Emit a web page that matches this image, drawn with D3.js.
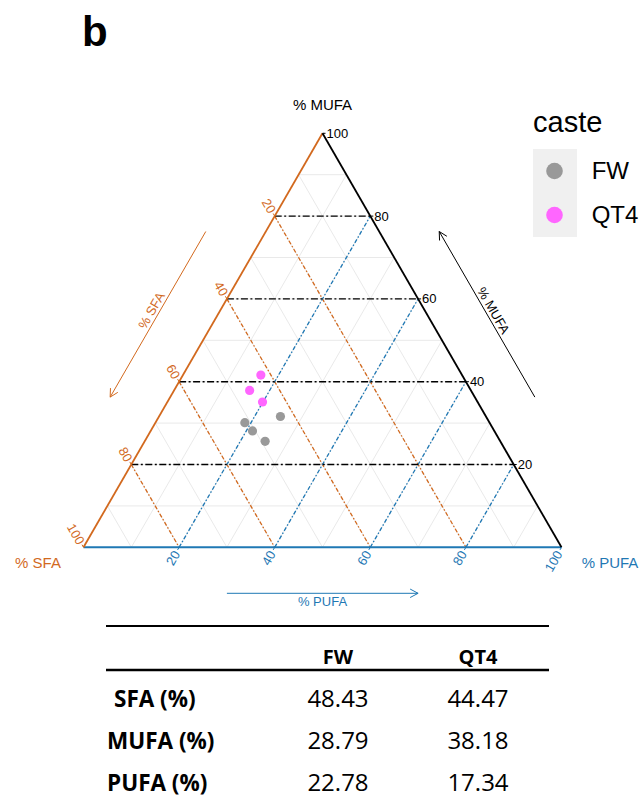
<!DOCTYPE html>
<html>
<head>
<meta charset="utf-8">
<script src="https://cdn.jsdelivr.net/npm/d3@7"></script>
<style>
  body { margin: 0; background: #fff; }
  svg { display: block; font-family: "Liberation Sans", Arial, sans-serif; }
</style>
</head>
<body>
<script>
// compositions of each sample (% SFA, % MUFA, % PUFA)
var fwSFA = [43.0, 51.2, 50.6, 49.2];
var fwMUFA = [31.6, 30.1, 28.1, 25.6];
var fwPUFA = [25.4, 18.7, 21.3, 25.2];
var qt4SFA = [42.1, 46.3, 45.0];
var qt4MUFA = [41.6, 37.9, 35.1];
var qt4PUFA = [16.3, 15.8, 19.9];

var castes = ["FW", "QT4"];
var majorTicks = [20, 40, 60, 80, 100];
var gridTicks = [10, 20, 30, 40, 50, 60, 70, 80, 90];

// mean table under the plot
var tableRows = ["SFA (%)", "MUFA (%)", "PUFA (%)"];
var fwMeans = ["48.43", "28.79", "22.78"];
var qt4Means = ["44.47", "38.18", "17.34"];

var width = 644, height = 797;
var orange = "#d2691e", blue = "#1f78b4", grey = "#999999", pink = "#ff66ff";
var casteColor = d3.scaleOrdinal().domain(castes).range([grey, pink]);

var svg = d3.select("body").append("svg")
    .attr("width", width)
    .attr("height", height);

svg.append("text")
    .attr("x", 82).attr("y", 46)
    .attr("font-size", 42).attr("font-weight", "bold")
    .text("b");

// ternary frame
var x0 = 83.5, y0 = 547.3, triW = 478, triH = 414;
var across = d3.scaleLinear().domain([0, 100]).range([0, triW]);
var up = d3.scaleLinear().domain([0, 100]).range([y0, y0 - triH]);
function proj(s, m, p) {
  return [x0 + across(p) + across(m) / 2, up(m)];
}
var L = proj(100, 0, 0), R = proj(0, 0, 100), T = proj(0, 100, 0);
var line = d3.line();

var g = svg.append("g");

// light grid every 10%
gridTicks.forEach(function (v) {
  [[proj(100 - v, v, 0), proj(0, v, 100 - v)],
   [proj(v, 100 - v, 0), proj(v, 0, 100 - v)],
   [proj(100 - v, 0, v), proj(0, 100 - v, v)]].forEach(function (seg) {
    g.append("path").attr("d", line(seg))
        .attr("stroke", "#e6e6e6").attr("stroke-width", 0.9).attr("fill", "none");
  });
});

// dash-dot major lines every 20%
var majorInner = majorTicks.filter(function (v) { return v < 100; });
g.selectAll(".sfaMajor").data(majorInner).enter().append("path")
    .attr("d", function (v) { return line([proj(v, 100 - v, 0), proj(v, 0, 100 - v)]); })
    .attr("stroke", orange).attr("stroke-width", 1.3).attr("fill", "none")
    .attr("stroke-dasharray", "4,2,1.5,2");
g.selectAll(".pufaMajor").data(majorInner).enter().append("path")
    .attr("d", function (v) { return line([proj(100 - v, 0, v), proj(0, 100 - v, v)]); })
    .attr("stroke", blue).attr("stroke-width", 1.3).attr("fill", "none")
    .attr("stroke-dasharray", "4,2,1.5,2");
g.selectAll(".mufaMajor").data(majorInner).enter().append("path")
    .attr("d", function (v) { return line([proj(100 - v, v, 0), proj(0, v, 100 - v)]); })
    .attr("stroke", "#000").attr("stroke-width", 1.4).attr("fill", "none")
    .attr("stroke-dasharray", "7,2.5,2,2.5");

// triangle edges
g.append("path").attr("d", line([L, R])).attr("stroke", blue).attr("stroke-width", 2).attr("fill", "none");
g.append("path").attr("d", line([L, T])).attr("stroke", orange).attr("stroke-width", 1.8).attr("fill", "none");
g.append("path").attr("d", line([R, T])).attr("stroke", "#000").attr("stroke-width", 1.8).attr("fill", "none");

// ticks + labels
var c60 = Math.cos(Math.PI / 3), s60 = Math.sin(Math.PI / 3);
majorTicks.forEach(function (v) {
  var ps = proj(v, 100 - v, 0);
  g.append("path").attr("d", line([ps, [ps[0] - 1.5, ps[1] - 2.6]])).attr("stroke", orange);
  g.append("text")
      .attr("transform", "translate(" + (ps[0] - 2.2) + "," + (ps[1] - 3.8) + ")rotate(60)")
      .attr("text-anchor", "end").attr("dy", "0.35em")
      .attr("font-size", 13).attr("fill", orange).text(v);

  var pp = proj(100 - v, 0, v);
  g.append("path").attr("d", line([pp, [pp[0] - 1.5, pp[1] + 2.6]])).attr("stroke", blue);
  g.append("text")
      .attr("transform", "translate(" + (pp[0] - 2.5) + "," + (pp[1] + 4.3) + ")rotate(-60)")
      .attr("text-anchor", "end").attr("dy", "0.35em")
      .attr("font-size", 13).attr("fill", blue).text(v);

  var pm = proj(0, v, 100 - v);
  g.append("path").attr("d", line([pm, [pm[0] + 3, pm[1]]])).attr("stroke", "#000");
  g.append("text")
      .attr("x", pm[0] + 4).attr("y", pm[1]).attr("dy", "0.35em")
      .attr("font-size", 13).attr("fill", "#000").text(v);
});

// vertex titles
svg.append("text").attr("x", T[0]).attr("y", T[1] - 23)
    .attr("text-anchor", "middle").attr("font-size", 15).text("% MUFA");
svg.append("text").attr("x", L[0] - 45.5).attr("y", L[1] + 21)
    .attr("text-anchor", "middle").attr("font-size", 15).attr("fill", orange).text("% SFA");
svg.append("text").attr("x", R[0] + 48.5).attr("y", R[1] + 20.5)
    .attr("text-anchor", "middle").attr("font-size", 15).attr("fill", blue).text("% PUFA");

// direction arrows
function edgePt(A, B, f, n, d) {
  return [A[0] + f * (B[0] - A[0]) + d * n[0], A[1] + f * (B[1] - A[1]) + d * n[1]];
}
function arrow(A, B, n, d, fFrom, fTo, col) {
  var p0 = edgePt(A, B, fFrom, n, d), p1 = edgePt(A, B, fTo, n, d);
  var dx = p1[0] - p0[0], dy = p1[1] - p0[1], len = Math.hypot(dx, dy);
  var ux = dx / len, uy = dy / len, a = 28 * Math.PI / 180, hl = 9;
  var h1 = [p1[0] - hl * (ux * Math.cos(a) - uy * Math.sin(a)), p1[1] - hl * (uy * Math.cos(a) + ux * Math.sin(a))];
  var h2 = [p1[0] - hl * (ux * Math.cos(a) + uy * Math.sin(a)), p1[1] - hl * (uy * Math.cos(a) - ux * Math.sin(a))];
  svg.append("path").attr("d", line([p0, p1]) + line([h1, p1, h2]))
      .attr("stroke", col).attr("stroke-width", 1).attr("fill", "none");
}
var nLeft = [-s60, -c60], nRight = [s60, -c60], nBottom = [0, 1];
arrow(L, T, nLeft, 52, 0.7, 0.3, orange);
arrow(L, R, nBottom, 46, 0.3, 0.7, blue);
arrow(R, T, nRight, 52, 0.3, 0.7, "#000");

var ls = edgePt(L, T, 0.5, nLeft, 55);
svg.append("text").attr("transform", "translate(" + ls[0] + "," + ls[1] + ")rotate(-60)")
    .attr("text-anchor", "middle").attr("font-size", 13).attr("fill", orange).text("% SFA");
var rs = edgePt(R, T, 0.5, nRight, 55);
svg.append("text").attr("transform", "translate(" + rs[0] + "," + rs[1] + ")rotate(60)")
    .attr("text-anchor", "middle").attr("font-size", 13).attr("fill", "#000").text("% MUFA");
var bs = edgePt(L, R, 0.5, nBottom, 46);
svg.append("text").attr("x", bs[0]).attr("y", bs[1] + 13)
    .attr("text-anchor", "middle").attr("font-size", 13).attr("fill", blue).text("% PUFA");

// sample points
var fwPts = d3.zip(fwSFA, fwMUFA, fwPUFA);
var qtPts = d3.zip(qt4SFA, qt4MUFA, qt4PUFA);
[[fwPts, "FW"], [qtPts, "QT4"]].forEach(function (grp) {
  svg.append("g").selectAll("circle").data(grp[0]).enter().append("circle")
      .attr("cx", function (d) { return proj(d[0], d[1], d[2])[0]; })
      .attr("cy", function (d) { return proj(d[0], d[1], d[2])[1]; })
      .attr("r", 4.6)
      .attr("fill", casteColor(grp[1]));
});

// legend
var leg = svg.append("g").attr("transform", "translate(533,0)");
leg.append("text").attr("x", 0).attr("y", 132).attr("font-size", 29).text("caste");
leg.append("rect").attr("x", 0).attr("y", 149).attr("width", 44).attr("height", 88).attr("fill", "#f0f0f0");
var legY = d3.scalePoint().domain(castes).range([171, 215]);
leg.selectAll("circle").data(castes).enter().append("circle")
    .attr("cx", 21.5).attr("cy", function (d) { return legY(d); })
    .attr("r", 8.3).attr("fill", function (d) { return casteColor(d); });
leg.selectAll(".lab").data(castes).enter().append("text")
    .attr("x", 58.7).attr("y", function (d) { return legY(d); }).attr("dy", "0.35em")
    .attr("font-size", 24).text(function (d) { return d; });

// table
var tbl = svg.append("g").attr("font-family", "'Open Sans', 'Liberation Sans', sans-serif");
tbl.append("line").attr("x1", 106).attr("x2", 549).attr("y1", 626).attr("y2", 626)
    .attr("stroke", "#000").attr("stroke-width", 2.2);
tbl.append("line").attr("x1", 106).attr("x2", 549).attr("y1", 670).attr("y2", 670)
    .attr("stroke", "#000").attr("stroke-width", 2.5);
var colX = d3.scalePoint().domain(castes).range([338, 478]);
var rowY = d3.scalePoint().domain(tableRows).range([707, 791]);
tbl.selectAll(".hdr").data(castes).enter().append("text")
    .attr("x", function (d) { return colX(d); }).attr("y", 664)
    .attr("text-anchor", "middle").attr("font-size", 20).attr("font-weight", "bold")
    .text(function (d) { return d; });
tbl.selectAll(".rowlab").data(tableRows).enter().append("text")
    .attr("x", function (d, i) { return i === 0 ? 114 : 107; })
    .attr("y", function (d) { return rowY(d); })
    .attr("font-size", 22.5).attr("font-weight", "bold")
    .text(function (d) { return d; });
[[fwMeans, "FW"], [qt4Means, "QT4"]].forEach(function (col) {
  tbl.selectAll(".v" + col[1]).data(col[0]).enter().append("text")
      .attr("x", colX(col[1]))
      .attr("y", function (d, i) { return rowY(tableRows[i]); })
      .attr("text-anchor", "middle").attr("font-size", 24)
      .text(function (d) { return d; });
});
</script>
</body>
</html>
